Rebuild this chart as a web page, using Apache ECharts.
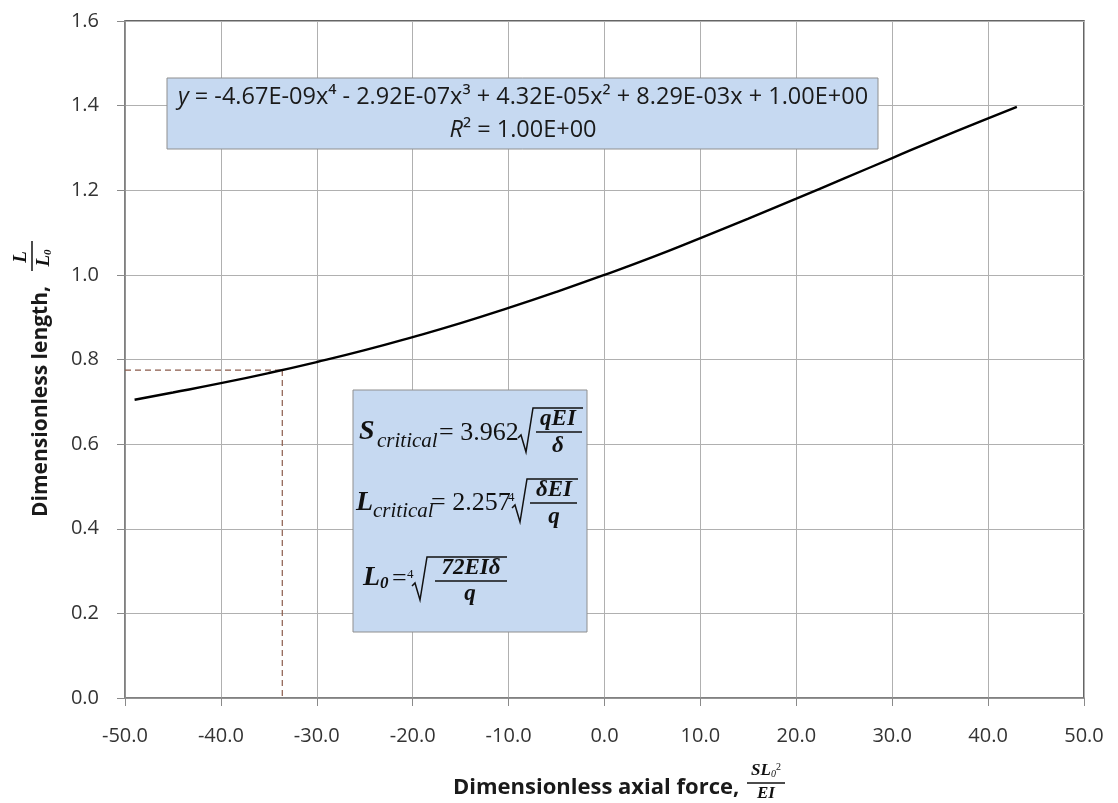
<!DOCTYPE html>
<html>
<head>
<meta charset="utf-8">
<script src="https://cdn.jsdelivr.net/npm/echarts@6/dist/echarts.min.js"></script>
<style>
  html, body { margin: 0; padding: 0; background: #fff; }
  #chart { width: 1118px; height: 803px; }
</style>
</head>
<body>
<div id="chart"></div>
<script>
// Dimensionless axial force vs. dimensionless length
const forceX = [-49, -45, -40, -35, -30, -25, -20, -15, -10, -5, 0, 5, 10, 15, 20, 25, 30, 35, 40, 43];
const lengthY = [0.705, 0.722, 0.744, 0.768, 0.794, 0.822, 0.853, 0.886, 0.922, 0.960, 1.000, 1.042, 1.087, 1.133, 1.180, 1.228, 1.276, 1.324, 1.370, 1.397];

// critical point marked with dashed guides
const criticalForce = -33.6;
const criticalLength = 0.775;

// axis ranges: min, max, interval
const xRange = [-50, 50, 10];
const yRange = [0, 1.6, 0.2];

// trendline text
const trendEquation = '{i|y} = -4.67E-09x⁴ - 2.92E-07x³ + 4.32E-05x² + 8.29E-03x + 1.00E+00';
const trendR2 = '{i|R}² = 1.00E+00';

const chart = echarts.init(document.getElementById('chart'), null, { renderer: 'canvas' });

const curve = forceX.map((x, i) => [x, lengthY[i]]);
const guideH = [[xRange[0], criticalLength], [criticalForce, criticalLength]];
const guideV = [[criticalForce, criticalLength], [criticalForce, 0]];

const serif = '"Liberation Serif", "DejaVu Serif", serif';
const sans = '"Open Sans", "Noto Sans", sans-serif';
const ink = '#111';

function txt(x, y, text, font, extra) {
  return {
    type: 'text', x: x, y: y, z: 20,
    style: Object.assign({ text: text, font: font, fill: ink, textAlign: 'left', textVerticalAlign: 'middle' }, extra || {})
  };
}
function seg(x1, y1, x2, y2, w) {
  return { type: 'line', z: 20, shape: { x1: x1, y1: y1, x2: x2, y2: y2 }, style: { stroke: ink, lineWidth: w || 1.6 } };
}
// radical sign: short lead-in, down stroke, long up stroke, then vinculum
function radical(x0, yTick, yBottom, yTop, xEnd) {
  return {
    type: 'polyline', z: 20,
    shape: { points: [[x0, yTick + 2], [x0 + 3, yTick - 1], [x0 + 8, yBottom], [x0 + 15, yTop], [xEnd, yTop]] },
    style: { stroke: ink, lineWidth: 1.5, fill: null, lineJoin: 'miter' }
  };
}

const BI = 'italic bold 28px ' + serif;
const IT = 'italic 21px ' + serif;
const RG = '26px ' + serif;
const FR = 'italic bold 23px ' + serif;
const IDX = '13px ' + serif;

const formulaBox = [
  { type: 'rect', z: 10, shape: { x: 353, y: 390, width: 234, height: 242 },
    style: { fill: '#c6d9f1', stroke: '#8f8f8f', lineWidth: 1 } },
  // S_critical = 3.962 sqrt(qEI / delta)
  txt(359, 432, 'S', BI),
  txt(377, 441, 'critical', IT),
  txt(439, 433, '= 3.962', RG),
  radical(518, 436, 452, 408, 583),
  txt(558, 419, 'qEI', FR, { textAlign: 'center' }),
  seg(536, 432, 582, 432),
  txt(558, 446, 'δ', FR, { textAlign: 'center' }),
  // L_critical = 2.257 4th-root(delta EI / q)
  txt(356, 503, 'L', BI),
  txt(373, 511, 'critical', IT),
  txt(431, 503, '= 2.257', RG),
  txt(508, 498, '4', IDX),
  radical(512, 506, 522, 479, 578),
  txt(554, 490, 'δEI', FR, { textAlign: 'center' }),
  seg(530, 503, 577, 503),
  txt(554, 517, 'q', FR, { textAlign: 'center' }),
  // L0 = 4th-root(72 EI delta / q)
  txt(363, 578, 'L', BI),
  txt(380, 584, '0', 'italic bold 17px ' + serif),
  txt(392, 579, '=', RG),
  txt(407, 575, '4', IDX),
  radical(412, 584, 600, 557, 507),
  txt(471, 568, '72EIδ', FR, { textAlign: 'center' }),
  seg(435, 581, 507, 581),
  txt(470, 594, 'q', FR, { textAlign: 'center' })
];

const eqRich = { i: { fontStyle: 'italic', fontSize: 23.5, fontFamily: sans, fill: '#1a1a1a' } };
const equationBox = [
  { type: 'rect', z: 10, shape: { x: 167, y: 78, width: 711, height: 71 },
    style: { fill: '#c6d9f1', stroke: '#8f8f8f', lineWidth: 1 } },
  { type: 'text', x: 523, y: 97, z: 20,
    style: { text: trendEquation, font: '23.5px ' + sans, fill: '#1a1a1a', textAlign: 'center', textVerticalAlign: 'middle', rich: eqRich } },
  { type: 'text', x: 523, y: 130, z: 20,
    style: { text: trendR2, font: '23.5px ' + sans, fill: '#1a1a1a', textAlign: 'center', textVerticalAlign: 'middle', rich: eqRich } }
];

const axisTitles = [
  // y axis title, reading bottom to top
  { type: 'text', x: 41, y: 517, rotation: Math.PI / 2, z: 20,
    style: { text: 'Dimensionless length,', font: 'bold 21px ' + sans, fill: '#1a1a1a', textAlign: 'left', textVerticalAlign: 'middle' } },
  { type: 'text', x: 21, y: 257, rotation: Math.PI / 2, z: 20,
    style: { text: 'L', font: 'italic bold 19px ' + serif, fill: ink, textAlign: 'center', textVerticalAlign: 'middle' } },
  { type: 'line', z: 20, shape: { x1: 32, y1: 241, x2: 32, y2: 271 }, style: { stroke: ink, lineWidth: 1.5 } },
  { type: 'text', x: 44, y: 258, rotation: Math.PI / 2, z: 20,
    style: { text: 'L{s|0}', font: 'italic bold 19px ' + serif, fill: ink, textAlign: 'center', textVerticalAlign: 'middle',
      rich: { s: { fontSize: 11, fontFamily: serif, fontStyle: 'italic', fontWeight: 'bold', verticalAlign: 'bottom', padding: [8, 0, 0, 0] } } } },
  // x axis title
  { type: 'text', x: 453, y: 788, z: 20,
    style: { text: 'Dimensionless axial force,', font: 'bold 22px ' + sans, fill: '#1a1a1a', textAlign: 'left', textVerticalAlign: 'middle' } },
  { type: 'text', x: 766, y: 771, z: 20,
    style: { text: 'SL{s|0}{p|2}', font: 'italic bold 17px ' + serif, fill: ink, textAlign: 'center', textVerticalAlign: 'middle',
      rich: { s: { fontSize: 10, fontFamily: serif, fontStyle: 'italic', padding: [7, 0, 0, 0] },
              p: { fontSize: 10, fontFamily: serif, padding: [0, 0, 7, 0] } } } },
  { type: 'line', z: 20, shape: { x1: 747, y1: 783, x2: 785, y2: 783 }, style: { stroke: ink, lineWidth: 1.5 } },
  { type: 'text', x: 766, y: 794, z: 20,
    style: { text: 'EI', font: 'italic bold 17px ' + serif, fill: ink, textAlign: 'center', textVerticalAlign: 'middle' } }
];

const axisCommon = {
  axisLine: { show: true, onZero: false, lineStyle: { color: '#8a8a8a', width: 1.5 } },
  axisTick: { show: true, inside: false, length: 8, lineStyle: { color: '#8a8a8a', width: 1 } },
  splitLine: { show: true, lineStyle: { color: '#b0b0b0', width: 1 } }
};

const option = {
  backgroundColor: '#ffffff',
  animation: false,
  grid: { left: 125, right: 34, top: 21, bottom: 105, show: true, borderColor: '#333', borderWidth: 1.5, backgroundColor: 'transparent' },
  xAxis: Object.assign({
    type: 'value', min: xRange[0], max: xRange[1], interval: xRange[2],
    axisLabel: { margin: 28, fontSize: 20, fontFamily: sans, color: '#333', formatter: v => v.toFixed(1) }
  }, axisCommon),
  yAxis: Object.assign({
    type: 'value', min: yRange[0], max: yRange[1], interval: yRange[2],
    axisLabel: { margin: 26, fontSize: 20, fontFamily: sans, color: '#333', formatter: v => v.toFixed(1) }
  }, axisCommon),
  series: [
    { type: 'line', data: curve, smooth: true, showSymbol: false, z: 5,
      lineStyle: { color: '#000', width: 2.4 } },
    { type: 'line', data: guideH, showSymbol: false, z: 4,
      lineStyle: { color: '#8a5a4a', width: 1.2, type: [6, 4] } },
    { type: 'line', data: guideV, showSymbol: false, z: 4,
      lineStyle: { color: '#8a5a4a', width: 1.2, type: [6, 4] } }
  ],
  graphic: { elements: equationBox.concat(formulaBox, axisTitles) }
};

chart.setOption(option);
</script>
</body>
</html>
